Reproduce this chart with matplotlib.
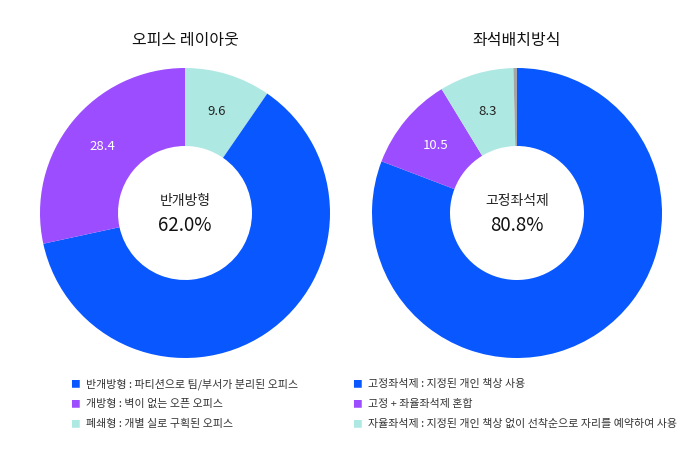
import matplotlib
matplotlib.use("Agg")
import numpy as np
import matplotlib.pyplot as plt

plt.rcParams['font.family'] = ['Noto Sans CJK KR', 'DejaVu Sans']

# 데이터 (범례 순서: 파랑, 보라, 민트, 회색)
layout_title = "오피스 레이아웃"
layout_values = [62.0, 28.4, 9.6]
layout_order = [2, 0, 1]          # 12시부터 시계방향으로 그리는 순서
layout_center = "반개방형"
layout_legend = ["반개방형 : 파티션으로 팀/부서가 분리된 오피스",
                 "개방형 : 벽이 없는 오픈 오피스",
                 "폐쇄형 : 개별 실로 구획된 오피스"]

seat_title = "좌석배치방식"
seat_values = [80.8, 10.5, 8.3, 0.4]
seat_order = [0, 1, 2, 3]
seat_center = "고정좌석제"
seat_legend = ["고정좌석제 : 지정된 개인 책상 사용",
               "고정 + 좌율좌석제 혼합",
               "자율좌석제 : 지정된 개인 책상 없이 선착순으로 자리를 예약하여 사용"]

colors = ["#0857FF", "#9B4DFF", "#AEE8E3", "#A6A6A6"]

W, H = 700, 462
fig = plt.figure(figsize=(7, 4.62), dpi=100)


def donut(cx, cy, r, values, order, title, center):
    ax = fig.add_axes([(cx - r) / W, (H - cy - r) / H, 2 * r / W, 2 * r / H])
    vals = [values[i] for i in order]
    cols = [colors[i] for i in order]
    ax.pie(vals, colors=cols, startangle=90, counterclock=False,
           radius=1, wedgeprops=dict(width=1 - 67 / 145, linewidth=0))
    total = sum(vals)
    start = 90
    for i, v in zip(order, vals):
        ang = start - v / total * 360 / 2
        start -= v / total * 360
        if i == 0 or v < 2:
            continue
        rr = 0.73
        ax.text(rr * np.cos(np.radians(ang)), rr * np.sin(np.radians(ang)),
                f"{v:.1f}", ha="center", va="center", fontsize=9.5,
                color="white" if i == 1 else "#222222")
    ax.text(0, 0.085, center, ha="center", va="center", fontsize=10, color="#222222")
    ax.text(0, -0.085, f"{values[0]:.1f}%", ha="center", va="center", fontsize=13.5,
            color="#111111")
    ax.set_xlim(-1, 1)
    ax.set_ylim(-1, 1)
    ax.set_aspect("equal")
    ax.axis("off")
    fig.text(cx / W, 1 - 40 / H, title, ha="center", va="center", fontsize=11.5,
             color="#111111")


donut(185, 213, 145, layout_values, layout_order, layout_title, layout_center)
donut(517, 213, 145, seat_values, seat_order, seat_title, seat_center)


def legend(x, items):
    for i, t in enumerate(items):
        y = 384 + 20 * i
        fig.text(x / W, 1 - y / H, "■", ha="center", va="center", fontsize=7,
                 color=colors[i])
        fig.text((x + 11) / W, 1 - y / H, t, ha="left", va="center", fontsize=7.9,
                 color="#333333")


legend(75, layout_legend)
legend(357, seat_legend)

fig.savefig("out.png", dpi=100)
